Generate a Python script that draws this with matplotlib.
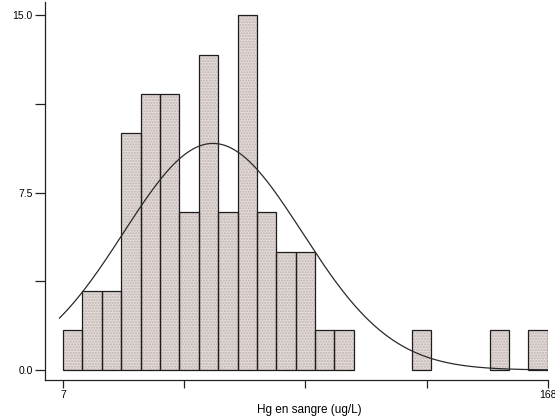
import numpy as np
import matplotlib
matplotlib.use("Agg")
import matplotlib.pyplot as plt

# ---- data ----
bin_start = 7.0
bin_end = 168.0
n_bins = 25
heights = [1.67, 3.33, 3.33, 10.0, 11.67, 11.67, 6.67, 13.33, 6.67, 15.0,
           6.67, 5.0, 5.0, 1.67, 1.67, 0, 0, 0, 1.67, 0, 0, 0, 1.67, 0, 1.67]
x_ticks = [7, 47.25, 87.5, 127.75, 168]
x_ticklabels = ["7", "", "", "", "168"]
y_ticks = [0, 3.75, 7.5, 11.25, 15.0]
y_ticklabels = ["0.0", "", "7.5", "", "15.0"]
xlabel = "Hg en sangre (ug/L)"
# fitted normal curve
curve_mean = 56.8
curve_sd = 29.7
curve_peak = 9.58
curve_from = 5.8
curve_to = 168.0

plt.rcParams['font.family'] = ['Liberation Sans', 'DejaVu Sans']

fig = plt.figure(figsize=(5.55, 4.19), dpi=100)
ax = fig.add_axes([0.0811, 0.0931, 0.9868 - 0.0811, 0.9952 - 0.0931])

edges = np.linspace(bin_start, bin_end, n_bins + 1)
width = edges[1] - edges[0]
lefts = edges[:-1]
h = np.array(heights, dtype=float)
mask = h > 0

# stippled fill
ax.bar(lefts[mask], h[mask], width=width, align='edge', color='#e4dad8',
       hatch='......', edgecolor='#bdb3b1', linewidth=0, zorder=1)
# outlines
ax.bar(lefts[mask], h[mask], width=width, align='edge', fill=False,
       edgecolor='#1e1e1e', linewidth=0.9, zorder=2)

xs = np.linspace(curve_from, curve_to, 400)
ys = curve_peak * np.exp(-0.5 * ((xs - curve_mean) / curve_sd) ** 2)
ax.plot(xs, ys, color='#2a2a2a', linewidth=0.9, zorder=3)

ax.set_xlim(1.0, 168.0)
ax.set_ylim(-0.423, 15.56)
ax.spines['top'].set_visible(False)
ax.spines['right'].set_visible(False)
for s in ('left', 'bottom'):
    ax.spines[s].set_linewidth(0.9)
    ax.spines[s].set_color('#222222')

ax.set_xticks(x_ticks)
ax.set_xticklabels(x_ticklabels, fontsize=7.5)
ax.set_yticks(y_ticks)
ax.set_yticklabels(y_ticklabels, fontsize=7.5)
ax.tick_params(axis='y', length=7.5, width=0.9, pad=1.5, color='#222222')
ax.tick_params(axis='x', length=6, width=0.9, pad=1.5, color='#222222')

ax.set_xlabel(xlabel, fontsize=8.5)
ax.xaxis.set_label_coords(0.525, -0.063)

fig.savefig("out.png", dpi=100)
